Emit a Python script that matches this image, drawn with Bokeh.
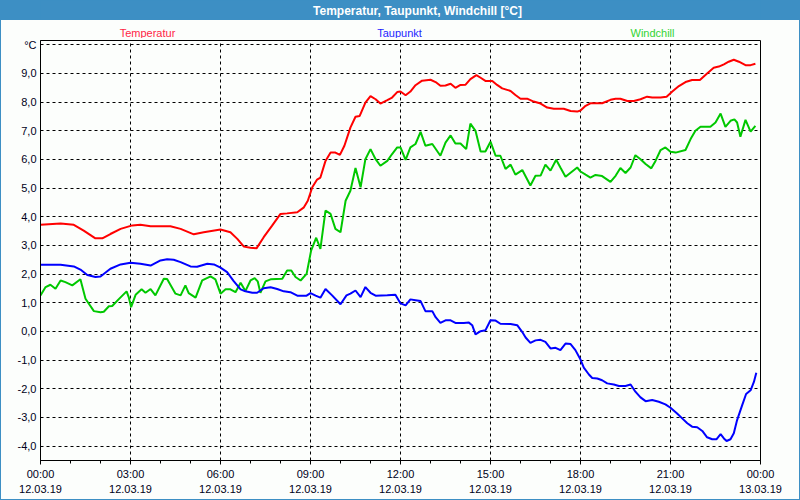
from bokeh.plotting import figure
from bokeh.models import Range1d, FixedTicker
from bokeh.layouts import column
from bokeh.core.properties import value
from bokeh.embed import file_html
from bokeh.resources import INLINE

# ---------------- data (hours since 12.03.19 00:00, °C) ----------------
temp_h = [0, 0.67, 1.11, 1.44, 1.83, 2.06, 2.33, 2.67, 3.06, 3.33, 3.67, 4.33, 4.67, 5.11, 5.44, 6.0,
          6.33, 6.56, 6.78, 7.0, 7.2, 7.44, 7.72, 8.0, 8.22, 8.56, 8.78, 8.91, 9.06, 9.22, 9.33, 9.5,
          9.67, 9.83, 9.98, 10.13, 10.33, 10.5, 10.64, 10.83, 11.0, 11.17, 11.33, 11.56, 11.72, 11.89, 12.0,
          12.17, 12.33, 12.5, 12.72, 13.0, 13.17, 13.33, 13.5, 13.67, 13.83, 14.0, 14.17, 14.33, 14.53,
          14.67, 14.83, 15.06, 15.22, 15.39, 15.67, 15.83, 16.0, 16.22, 16.44, 16.67, 16.89, 17.11, 17.44,
          17.67, 17.89, 18.0, 18.17, 18.33, 18.72, 19.0, 19.17, 19.33, 19.56, 19.78, 20.0, 20.22, 20.39,
          20.67, 20.87, 21.06, 21.28, 21.5, 21.72, 21.98, 22.22, 22.44, 22.61, 22.78, 22.94, 23.11, 23.28,
          23.5, 23.67, 23.83]
temp_v = [3.72, 3.77, 3.72, 3.52, 3.25, 3.25, 3.40, 3.58, 3.70, 3.72, 3.67, 3.67, 3.58, 3.39, 3.46, 3.56,
          3.46, 3.23, 2.96, 2.92, 2.90, 3.29, 3.69, 4.10, 4.12, 4.16, 4.33, 4.56, 5.03, 5.30, 5.37, 5.95,
          6.24, 6.24, 6.16, 6.48, 7.11, 7.49, 7.52, 7.98, 8.21, 8.10, 7.95, 8.07, 8.16, 8.35, 8.37,
          8.24, 8.37, 8.59, 8.75, 8.78, 8.70, 8.57, 8.58, 8.64, 8.50, 8.60, 8.61, 8.80, 8.94,
          8.85, 8.74, 8.74, 8.60, 8.48, 8.39, 8.25, 8.12, 8.12, 8.02, 7.95, 7.81, 7.77, 7.77,
          7.69, 7.67, 7.71, 7.87, 7.96, 7.96, 8.08, 8.12, 8.12, 8.04, 8.04, 8.10, 8.19, 8.16,
          8.16, 8.19, 8.37, 8.56, 8.70, 8.77, 8.77, 9.00, 9.20, 9.24, 9.32, 9.41, 9.48, 9.41,
          9.29, 9.29, 9.34]

dew_h = [0, 0.67, 1.11, 1.33, 1.56, 1.83, 2.0, 2.33, 2.67, 3.0, 3.33, 3.67, 4.0, 4.22, 4.44, 4.67, 5.0,
         5.22, 5.56, 5.78, 6.0, 6.22, 6.44, 6.67, 6.83, 7.06, 7.22, 7.44, 7.67, 7.89, 8.11, 8.33, 8.56,
         8.87, 9.0, 9.17, 9.33, 9.5, 9.72, 10.0, 10.2, 10.33, 10.5, 10.67, 10.83, 11.0, 11.17, 11.56,
         11.83, 12.0, 12.17, 12.33, 12.5, 12.67, 12.83, 13.06, 13.17, 13.33, 13.5, 13.67, 13.83, 14.11,
         14.28, 14.39, 14.5, 14.67, 14.83, 15.0, 15.17, 15.33, 15.67, 15.89, 16.06, 16.17, 16.33, 16.5,
         16.67, 16.83, 17.0, 17.17, 17.33, 17.5, 17.67, 17.83, 18.0, 18.11, 18.28, 18.39, 18.56, 18.72,
         18.89, 19.11, 19.28, 19.5, 19.67, 19.83, 20.0, 20.17, 20.39, 20.61, 20.83, 21.0, 21.22, 21.39,
         21.56, 21.72, 21.89, 22.06, 22.22, 22.39, 22.53, 22.67, 22.78, 22.87, 23.0, 23.11, 23.22, 23.39,
         23.52, 23.67, 23.78, 23.86]
dew_v = [2.33, 2.33, 2.27, 2.16, 1.97, 1.90, 1.92, 2.19, 2.34, 2.40, 2.36, 2.30, 2.48, 2.52, 2.50, 2.42, 2.27,
         2.26, 2.36, 2.34, 2.23, 2.07, 1.76, 1.47, 1.40, 1.35, 1.35, 1.51, 1.54, 1.48, 1.40, 1.37, 1.25,
         1.25, 1.34, 1.25, 1.18, 1.48, 1.26, 0.95, 1.26, 1.32, 1.43, 1.20, 1.55, 1.35, 1.25, 1.26,
         1.28, 0.98, 0.91, 1.12, 1.09, 1.06, 0.71, 0.71, 0.50, 0.30, 0.39, 0.39, 0.30, 0.30,
         0.31, 0.22, -0.10, 0.01, 0.04, 0.39, 0.38, 0.27, 0.26, 0.22, -0.02, -0.21, -0.40, -0.31,
         -0.29, -0.36, -0.59, -0.57, -0.65, -0.42, -0.44, -0.65, -0.98, -1.26, -1.50, -1.62, -1.64, -1.70,
         -1.81, -1.85, -1.90, -1.90, -1.85, -2.10, -2.30, -2.43, -2.39, -2.45, -2.54, -2.66, -2.86, -3.03,
         -3.20, -3.32, -3.34, -3.47, -3.69, -3.76, -3.76, -3.58, -3.73, -3.82, -3.76, -3.55, -3.09, -2.57,
         -2.18, -2.05, -1.76, -1.44]

wind_h = [0, 0.17, 0.33, 0.5, 0.67, 0.83, 1.06, 1.33, 1.5, 1.78, 2.0, 2.11, 2.28, 2.39, 2.61, 2.87, 2.94,
          3.02, 3.17, 3.37, 3.5, 3.67, 3.83, 4.11, 4.22, 4.5, 4.67, 4.83, 4.94, 5.17, 5.39, 5.67, 5.83, 6.0,
          6.17, 6.33, 6.5, 6.67, 6.83, 7.0, 7.14, 7.24, 7.33, 7.5, 7.67, 8.06, 8.22, 8.36, 8.5, 8.67, 8.87,
          9.02, 9.19, 9.33, 9.5, 9.67, 9.83, 10.0, 10.17, 10.33, 10.5, 10.67, 10.83, 11.0, 11.17, 11.33,
          11.56, 11.72, 11.89, 12.0, 12.17, 12.33, 12.5, 12.67, 12.83, 13.06, 13.33, 13.5, 13.67, 13.83,
          14.0, 14.19, 14.33, 14.5, 14.67, 14.83, 15.0, 15.17, 15.33, 15.5, 15.67, 15.83, 16.06, 16.33,
          16.5, 16.67, 16.83, 17.0, 17.19, 17.33, 17.5, 17.89, 18.0, 18.17, 18.33, 18.5, 18.72, 19.0,
          19.17, 19.33, 19.5, 19.67, 19.83, 20.0, 20.17, 20.36, 20.5, 20.67, 20.83, 21.0, 21.17, 21.5,
          21.67, 21.83, 22.0, 22.33, 22.5, 22.67, 22.83, 23.0, 23.13, 23.22, 23.33, 23.5, 23.67, 23.83]
wind_v = [1.26, 1.55, 1.63, 1.49, 1.78, 1.72, 1.61, 1.82, 1.14, 0.71, 0.67, 0.69, 0.88, 0.89, 1.13, 1.40, 1.20,
          0.85, 1.28, 1.47, 1.35, 1.48, 1.26, 1.84, 1.83, 1.32, 1.26, 1.61, 1.34, 1.18, 1.78, 1.92, 1.82, 1.32,
          1.47, 1.47, 1.37, 1.70, 1.41, 1.78, 1.86, 1.75, 1.35, 1.75, 1.82, 1.84, 2.13, 2.13, 1.90, 1.78, 2.01,
          2.82, 3.27, 2.88, 4.22, 4.10, 3.58, 3.46, 4.56, 4.91, 5.70, 5.03, 6.01, 6.36, 6.01, 5.78,
          5.95, 6.19, 6.42, 6.42, 5.99, 6.42, 6.54, 6.96, 6.48, 6.54, 6.13, 6.59, 6.84, 6.56,
          6.56, 6.36, 7.25, 7.00, 6.28, 6.28, 6.62, 6.13, 6.13, 5.67, 5.82, 5.47, 5.63, 5.09,
          5.43, 5.44, 5.82, 5.61, 5.99, 5.72, 5.40, 5.72, 5.58, 5.47, 5.37, 5.46, 5.42, 5.22,
          5.43, 5.70, 5.53, 5.72, 6.15, 6.01, 5.84, 5.69, 5.95, 6.33, 6.42, 6.27, 6.24, 6.33,
          6.71, 7.00, 7.14, 7.14, 7.29, 7.60, 7.14, 7.35, 7.40, 7.29, 6.79, 7.38, 6.97, 7.17]

x_ticks = [0, 3, 6, 9, 12, 15, 18, 21, 24]
x_tick_labels = ["00:00\n12.03.19", "03:00\n12.03.19", "06:00\n12.03.19", "09:00\n12.03.19",
                 "12:00\n12.03.19", "15:00\n12.03.19", "18:00\n12.03.19", "21:00\n12.03.19",
                 "00:00\n13.03.19"]
y_ticks = [-4, -3, -2, -1, 0, 1, 2, 3, 4, 5, 6, 7, 8, 9, 10]
y_tick_labels = ["-4,0", "-3,0", "-2,0", "-1,0", "0,0", "1,0", "2,0", "3,0", "4,0", "5,0",
                 "6,0", "7,0", "8,0", "9,0", "°C"]

series_names = ["Temperatur", "Taupunkt", "Windchill"]
series_colors = ["#ff0000", "#0000ff", "#00c800"]
label_colors = ["#ff1e46", "#1e1eff", "#33d433"]
title_text = "Temperatur, Taupunkt, Windchill [°C]"

# ---------------- layout constants ----------------
W = 800
BAR_H = 20           # blue title bar
NAMES_H = 18         # row with the series names
MAIN_H = 462
BL, BR, BT, BB = 40, 40, 2, 40
FW = W - BL - BR     # frame width (720)
FONT = "Liberation Sans"
BG = "#fcfefc"
BAR = "#3d8fc4"
EDGE_SIDES = f"inset 1px 0 0 {BAR}, inset -1px 0 0 {BAR}"
EDGE_BOTTOM = f"inset 1px 0 0 {BAR}, inset -1px -1px 0 {BAR}"

def strip(height, fill, shadow=None):
    # transparent canvas border; the strip colour comes from the element's own CSS background
    styles = {"background-color": fill}
    if shadow:
        styles["box-shadow"] = shadow
    f = figure(width=W, height=height, output_backend="svg", toolbar_location=None,
               x_range=Range1d(0, FW), y_range=Range1d(height, 0),
               x_axis_location=None, y_axis_location=None,
               min_border=0, min_border_left=BL, min_border_right=BR,
               background_fill_color=fill, border_fill_color=None, styles=styles)
    f.outline_line_color = None
    f.grid.visible = False
    return f

# title bar (coordinates are pixels relative to the plot frame's left edge)
bar = strip(BAR_H, BAR)
bar.text(x=[417 - BL], y=[10], text=[title_text], text_color="white", text_font=value(FONT),
         text_font_size="12px", text_font_style="bold", text_align="center", text_baseline="middle")

# series names row
names = strip(NAMES_H, BG, EDGE_SIDES)
names.text(x=[147 - BL, 399 - BL, 652 - BL], y=[12, 12, 12], text=series_names,
           text_color=label_colors, text_font=value(FONT), text_font_size="11px",
           text_align="center", text_baseline="middle")

# ---------------- main chart ----------------
p = figure(width=W, height=MAIN_H, output_backend="svg", toolbar_location=None,
           x_range=Range1d(0, 24), y_range=Range1d(-4.5, 10.15),
           min_border_left=BL, min_border_right=BR, min_border_top=BT, min_border_bottom=BB,
           background_fill_color=BG, border_fill_color=None,
           styles={"background-color": BG, "box-shadow": EDGE_BOTTOM})
p.outline_line_color = "black"
p.outline_line_width = 1

xa = p.xaxis[0]
xa.ticker = FixedTicker(ticks=x_ticks, minor_ticks=list(range(0, 25)))
xa.major_label_overrides = {t: l for t, l in zip(x_ticks, x_tick_labels)}
xa.axis_line_color = "black"
xa.major_tick_out = 4
xa.major_tick_in = 0
xa.minor_tick_out = 3
xa.minor_tick_in = 0
xa.major_label_standoff = 3
xa.major_label_text_font = FONT
xa.major_label_text_font_size = "11px"
xa.major_label_text_color = "#000020"
xa.major_label_text_line_height = 1.25

ya = p.yaxis[0]
ya.ticker = FixedTicker(ticks=y_ticks, minor_ticks=[])
ya.major_label_overrides = {t: l for t, l in zip(y_ticks, y_tick_labels)}
ya.axis_line_color = "black"
ya.major_tick_out = 0
ya.major_tick_in = 0
ya.minor_tick_out = 0
ya.major_label_standoff = 4
ya.major_label_text_font = FONT
ya.major_label_text_font_size = "11px"
ya.major_label_text_color = "#000020"

p.xgrid.ticker = FixedTicker(ticks=x_ticks)
p.ygrid.ticker = FixedTicker(ticks=y_ticks)
for g in (p.xgrid[0], p.ygrid[0]):
    g.grid_line_color = "black"
    g.grid_line_dash = "3 3"
    g.grid_line_width = 1

p.line(temp_h, temp_v, line_color=series_colors[0], line_width=2)
p.line(wind_h, wind_v, line_color=series_colors[2], line_width=2)
p.line(dew_h, dew_v, line_color=series_colors[1], line_width=2)

layout = column(bar, names, p, spacing=0)
open("out.html", "w").write(file_html(layout, INLINE))
